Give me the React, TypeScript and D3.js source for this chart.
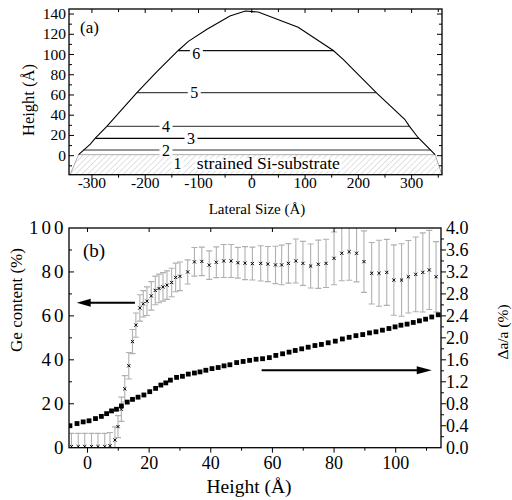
import React from 'react';
import * as d3 from 'd3';

// ---------- Panel (a): island profile ----------
const profileX = [-325, -303, -294, -272, -216, -178, -138, -119, -84, -41, -12, 12, 87, 153, 172, 234, 287, 296, 312, 344];
const profileH = [1, 11.5, 17, 29, 62, 83, 104, 113, 125, 138, 143, 142, 127, 104, 95, 62, 36, 29, 18, 1];
const layerH = [5.6, 17.2, 29, 62.3, 103.8];
const layerNames = ['2', '3', '4', '5', '6'];
const layerLabelX = [-161, -114, -161, -108, -104];
const substrateX = [-325, 344, 357, -341];
const substrateY = [1, 1, -18.8, -18.8];
const substrateLabels = ['1', 'strained Si-substrate'];
const substrateLabelX = [-139.5, -103];
const topXTicks = [-300, -200, -100, 0, 100, 200, 300];
const topYTicks = [0, 20, 40, 60, 80, 100, 120, 140];

// ---------- Panel (b): Ge content and strain ----------
const geHeight = [-5.2, -3.0, -0.9, 1.3, 3.4, 5.6, 7.3, 8.9, 9.9, 11.0, 12.1, 13.4, 14.6, 15.7, 17.0, 18.1, 19.3, 20.7, 22.0, 23.2, 24.5, 25.8, 27.3, 28.6, 30.0, 32.5, 34.7, 37.1, 39.5, 41.8, 44.2, 46.6, 48.8, 51.1, 53.5, 56.2, 58.5, 61.0, 63.0, 65.2, 67.6, 69.9, 72.4, 74.9, 77.4, 80.0, 82.5, 84.9, 87.3, 89.7, 92.2, 94.6, 97.1, 99.4, 101.9, 104.1, 106.5, 108.8, 110.9, 113.1];
const geContent = [0.5, 0.5, 0.5, 0.5, 0.5, 0.5, 0.9, 3.5, 9.6, 17.5, 26.8, 37.3, 48.3, 55.8, 63.6, 65.5, 66.7, 69.1, 71.6, 72.5, 73.2, 74.0, 75.2, 77.5, 78.0, 80.0, 84.6, 84.8, 83.1, 84.4, 85.0, 85.0, 84.2, 84.0, 83.8, 83.9, 83.6, 83.2, 83.2, 83.9, 85.0, 83.9, 82.7, 83.5, 83.9, 86.2, 88.5, 89.2, 88.5, 84.7, 79.4, 79.4, 79.8, 76.3, 76.3, 77.8, 78.9, 79.8, 80.9, 77.8];
const geError = [6, 6, 6, 6, 6, 6, 6, 6, 5, 5.5, 6, 6, 5.5, 5.5, 6, 6, 6.5, 6.5, 6.5, 6.5, 6.5, 6.5, 6.5, 6.5, 6.5, 5.5, 6.5, 6.5, 6.5, 7, 7.5, 7.5, 7, 7.5, 7.5, 8, 8, 8.5, 9, 9, 10, 10, 10, 11, 11, 12, 12.5, 13, 13, 14, 14, 15, 15, 16, 16.5, 16.5, 17, 18, 18, 16];
const strainHeight = [-5.7, -3.4, -1.4, 0.5, 2.6, 4.5, 6.2, 7.8, 9.4, 11.0, 12.9, 14.6, 16.4, 18.3, 20.2, 22.1, 23.8, 25.4, 26.9, 28.9, 30.8, 32.7, 34.7, 36.5, 38.4, 40.4, 42.4, 44.3, 46.2, 48.4, 50.5, 52.6, 54.7, 56.8, 59.0, 61.1, 63.3, 65.4, 67.4, 69.5, 71.6, 73.8, 75.9, 78.1, 80.4, 82.7, 84.9, 87.1, 89.3, 91.5, 93.6, 95.7, 97.8, 99.8, 101.7, 103.7, 105.7, 107.7, 109.7, 111.7, 113.8];
const strain = [0.40, 0.44, 0.47, 0.49, 0.53, 0.57, 0.62, 0.67, 0.70, 0.76, 0.83, 0.88, 0.92, 0.96, 1.02, 1.08, 1.14, 1.18, 1.23, 1.28, 1.30, 1.34, 1.36, 1.38, 1.41, 1.44, 1.46, 1.49, 1.51, 1.55, 1.57, 1.59, 1.61, 1.62, 1.64, 1.68, 1.71, 1.74, 1.77, 1.80, 1.83, 1.86, 1.88, 1.91, 1.94, 1.98, 2.01, 2.04, 2.06, 2.09, 2.11, 2.14, 2.17, 2.20, 2.23, 2.25, 2.28, 2.31, 2.34, 2.38, 2.42];
const bottomXTicks = [0, 20, 40, 60, 80, 100];
const leftTicks = [0, 20, 40, 60, 80, 100];
const rightTicks = [0, 0.4, 0.8, 1.2, 1.6, 2.0, 2.4, 2.8, 3.2, 3.6, 4.0];
// arrows (data units): [x0, x1, y]
const leftArrow = [15.4, -3.5, 66];
const rightArrow = [56.5, 111.7, 1.41];

const FONT = "'Liberation Serif', 'Times New Roman', serif";

function crossings(h: number): [number, number] {
  const xs: number[] = [];
  for (let i = 0; i < profileX.length - 1; i++) {
    const h0 = profileH[i], h1 = profileH[i + 1];
    if ((h0 - h) * (h1 - h) <= 0 && h0 !== h1) {
      const t = (h - h0) / (h1 - h0);
      xs.push(profileX[i] + t * (profileX[i + 1] - profileX[i]));
    }
  }
  return [Math.min(...xs), Math.max(...xs)];
}

export default function App() {
  const tx = d3.scaleLinear().domain([-343, 357]).range([69, 442]);
  const ty = d3.scaleLinear().domain([-18.8, 145]).range([174.7, 9]);
  const bx = d3.scaleLinear().domain([-6, 114.7]).range([69, 441]);
  const by = d3.scaleLinear().domain([0, 100]).range([447.7, 228]);
  const byR = d3.scaleLinear().domain([0, 4]).range([447.7, 228]);

  const profileLine = d3.line<number>().x((d, i) => tx(profileX[i])).y((d, i) => ty(profileH[i]));
  const substratePath = d3.line<number>().x((d, i) => tx(substrateX[i])).y((d, i) => ty(substrateY[i]))(substrateX) + 'Z';

  const layerColors = ['#333', '#000', '#555', '#444', '#111'];

  const ticks: any[] = [];
  let k = 0;
  const tl = (x1: number, y1: number, x2: number, y2: number) => {
    ticks.push(<line key={'t' + k++} x1={x1} y1={y1} x2={x2} y2={y2} stroke="#000" strokeWidth={1} />);
  };
  for (let v = -350; v <= 350; v += 50) {
    if (v < -343 || v > 357) continue;
    const major = v % 100 === 0;
    const x = tx(v);
    tl(x, 174.7, x, 174.7 + (major ? 5 : 3));
    tl(x, 9, x, 9 + (major ? 4 : 3));
  }
  for (let v = -10; v <= 140; v += 10) {
    const major = v % 20 === 0;
    const y = ty(v);
    tl(69, y, 69 + (major ? 5 : 3), y);
    tl(442, y, 442 - (major ? 5 : 3), y);
  }
  for (let v = 0; v <= 110; v += 10) {
    const major = v % 20 === 0;
    const x = bx(v);
    tl(x, 447.7, x, 447.7 + (major ? 5 : 3));
    if (major) tl(x, 228, x, 232);
  }
  for (let v = 10; v <= 90; v += 10) {
    const major = v % 20 === 0;
    const y = by(v);
    tl(69, y, 69 + (major ? 5 : 3), y);
  }
  for (let v = 0.2; v < 4.0; v += 0.2) {
    const major = Math.abs(v / 0.4 - Math.round(v / 0.4)) < 1e-6;
    const y = byR(v);
    tl(441, y, 441 + (major ? 5 : 3), y);
  }

  const ax0 = bx(leftArrow[0]), ax1 = bx(leftArrow[1]), ay = by(leftArrow[2]);
  const rx0 = bx(rightArrow[0]), rx1 = bx(rightArrow[1]), ry = byR(rightArrow[2]);

  return (
    <svg width={512} height={500} style={{ position: 'absolute', left: 0, top: 0, background: '#fff', fontFamily: FONT }} fontFamily={FONT}>
      <defs>
        <pattern id="hatch" width={4.2} height={4.2} patternUnits="userSpaceOnUse" patternTransform="rotate(45)">
          <line x1={0} y1={0} x2={0} y2={4.2} stroke="#bdbdbd" strokeWidth={0.9} />
        </pattern>
        <clipPath id="clipA"><rect x={69} y={9} width={373} height={165.7} /></clipPath>
        <clipPath id="clipB"><rect x={69} y={228} width={372} height={219.7} /></clipPath>
      </defs>
      <rect x={0} y={0} width={512} height={500} fill="#fff" />

      {/* ---------- Panel (a) ---------- */}
      <g clipPath="url(#clipA)">
        <path d={substratePath} fill="url(#hatch)" stroke="#999" strokeWidth={0.8} />
        {layerH.map((h, i) => {
          const [x0, x1] = crossings(h);
          return <line key={'l' + i} x1={tx(x0)} x2={tx(x1)} y1={ty(h)} y2={ty(h)} stroke={layerColors[i]} strokeWidth={1.2} />;
        })}
        <path d={profileLine(profileX) || ''} fill="none" stroke="#000" strokeWidth={1.1} />
        {layerH.map((h, i) => (
          <g key={'ll' + i}>
            <rect x={tx(layerLabelX[i]) - 6.5} y={ty(h) - 6} width={13} height={12} fill="#fff" />
            <text x={tx(layerLabelX[i])} y={ty(h) + (i === 4 ? 8 : 5.5)} fontSize={16} textAnchor="middle">{layerNames[i]}</text>
          </g>
        ))}
        <rect x={tx(substrateLabelX[0]) - 6} y={158.5} width={12} height={12.5} fill="#fff" />
        <text x={tx(substrateLabelX[0])} y={ty(-8.2) + 5.5} fontSize={16} textAnchor="middle">{substrateLabels[0]}</text>
        <rect x={tx(substrateLabelX[1]) - 2} y={158.5} width={147} height={12.5} fill="#fff" />
        <text x={tx(substrateLabelX[1])} y={ty(-8.2) + 5} fontSize={16} textLength={143} lengthAdjust="spacingAndGlyphs">{substrateLabels[1]}</text>
      </g>
      <rect x={69} y={9} width={373} height={165.7} fill="none" stroke="#000" strokeWidth={1.3} />
      {topXTicks.map(v => (
        <text key={'tx' + v} x={tx(v)} y={188} fontSize={15.5} textAnchor="middle">{v}</text>
      ))}
      {topYTicks.map(v => (
        <text key={'ty' + v} x={66} y={ty(v) + 5} fontSize={15.5} textAnchor="end">{v}</text>
      ))}
      <text x={80} y={33} fontSize={17}>(a)</text>
      <text x={257} y={214} fontSize={15} textAnchor="middle">Lateral Size (Å)</text>
      <text transform="translate(34,100) rotate(-90)" fontSize={16.5} textAnchor="middle">Height (Å)</text>

      {/* ---------- Panel (b) ---------- */}
      <g clipPath="url(#clipB)">
        {geHeight.map((h, i) => {
          const x = bx(h);
          const y0 = by(geContent[i] - geError[i]);
          const y1 = by(geContent[i] + geError[i]);
          return (
            <g key={'e' + i} stroke="#b0b0b0" strokeWidth={1.1}>
              <line x1={x} x2={x} y1={y0} y2={y1} />
              <line x1={x - 3} x2={x + 3} y1={y0} y2={y0} />
              <line x1={x - 3} x2={x + 3} y1={y1} y2={y1} />
            </g>
          );
        })}
        {geHeight.map((h, i) => {
          const x = bx(h), y = by(geContent[i]);
          return (
            <g key={'m' + i} stroke="#000" strokeWidth={1}>
              <line x1={x - 1.6} x2={x + 1.6} y1={y - 1.6} y2={y + 1.6} />
              <line x1={x - 1.6} x2={x + 1.6} y1={y + 1.6} y2={y - 1.6} />
            </g>
          );
        })}
        {strainHeight.map((h, i) => (
          <rect key={'s' + i} x={bx(h) - 2.4} y={byR(strain[i]) - 2.4} width={4.8} height={4.8} fill="#000" />
        ))}
      </g>
      <line x1={ax0} x2={ax1 + 12} y1={ay} y2={ay} stroke="#000" strokeWidth={2} />
      <path d={`M${ax1},${ay} L${ax1 + 14},${ay - 4} L${ax1 + 14},${ay + 4} Z`} fill="#000" />
      <line x1={rx0} x2={rx1 - 12} y1={ry} y2={ry} stroke="#000" strokeWidth={1.8} />
      <path d={`M${rx1},${ry} L${rx1 - 15},${ry - 4} L${rx1 - 15},${ry + 4} Z`} fill="#000" />

      <rect x={69} y={228} width={372} height={219.7} fill="none" stroke="#000" strokeWidth={1.3} />
      {ticks}
      {bottomXTicks.map(v => (
        <text key={'bx' + v} x={bx(v)} y={468.5} fontSize={18} textAnchor="middle">{v}</text>
      ))}
      {leftTicks.map(v => (
        <text key={'bl' + v} x={66.5} y={by(v) + 6} fontSize={19} textAnchor="end" letterSpacing={3}>{v}</text>
      ))}
      {rightTicks.map(v => (
        <text key={'br' + v} x={446} y={byR(v) + 6} fontSize={18} textAnchor="start">{v.toFixed(1)}</text>
      ))}
      <text x={83} y={257} fontSize={19}>(b)</text>
      <text x={249} y={493} fontSize={19.5} textAnchor="middle">Height (Å)</text>
      <text transform="translate(22,300) rotate(-90)" fontSize={17} textAnchor="middle">Ge content (%)</text>
      <text transform="translate(508,332) rotate(-90)" fontSize={15.5} textAnchor="middle">Δa/a (%)</text>
    </svg>
  );
}
